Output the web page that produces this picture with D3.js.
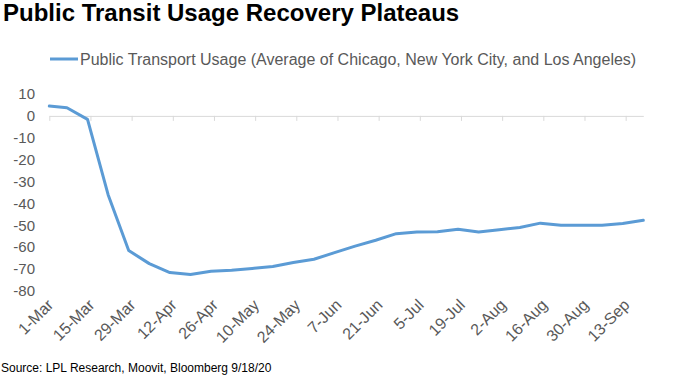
<!DOCTYPE html>
<html>
<head>
<meta charset="utf-8">
<script src="https://cdn.jsdelivr.net/npm/d3@7"></script>
<style>
	body { margin: 0; background: #fff; }
	text { font-family: "Liberation Sans", Arial, sans-serif; }
</style>
</head>
<body>
<svg width="694" height="384"></svg>
<script>
//* data
const dates = ["2020-03-01", "2020-03-07", "2020-03-14", "2020-03-21", "2020-03-28",
	"2020-04-04", "2020-04-11", "2020-04-18", "2020-04-25", "2020-05-02", "2020-05-09",
	"2020-05-16", "2020-05-23", "2020-05-30", "2020-06-06", "2020-06-13", "2020-06-20",
	"2020-06-27", "2020-07-04", "2020-07-11", "2020-07-18", "2020-07-25", "2020-08-01",
	"2020-08-08", "2020-08-15", "2020-08-22", "2020-08-29", "2020-09-05", "2020-09-12",
	"2020-09-19"];
const usage = [4.5, 3.7, -1.6, -36, -61.5, -67.5, -71.6, -72.5, -71, -70.5, -69.7,
	-68.8, -67, -65.5, -62.5, -59.5, -56.8, -53.8, -53, -52.9, -51.8, -53, -52,
	-51, -49, -50, -50, -50, -49.2, -47.7];
const tickLabels = ["1-Mar", "15-Mar", "29-Mar", "12-Apr", "26-Apr", "10-May", "24-May",
	"7-Jun", "21-Jun", "5-Jul", "19-Jul", "2-Aug", "16-Aug", "30-Aug", "13-Sep"];
const yTicks = [10, 0, -10, -20, -30, -40, -50, -60, -70, -80];
const seriesName = "Public Transport Usage (Average of Chicago, New York City, and Los Angeles)";

const parseDay = d3.timeParse("%Y-%m-%d");
const parseLabel = d3.timeParse("%d-%b-%Y");
const points = dates.map((d, i) => ({ date: parseDay(d), value: usage[i] }));
const tickDates = tickLabels.map((t) => parseLabel(t + "-2020"));

const svg = d3.select("svg");
const blue = "#5b9bd5";
const grey = "#595959";

//* scales
const x = d3.scaleTime()
	.domain(d3.extent(points, (d) => d.date))
	.range([49.3, 643.3]);
const y = d3.scaleLinear().domain([-80, 10]).range([291, 94]);

//* title
svg.append("text")
	.attr("x", 3)
	.attr("y", 21)
	.style("font-size", "24px")
	.style("font-weight", "bold")
	.style("fill", "#000")
	.text("Public Transit Usage Recovery Plateaus");

//* legend
svg.append("line")
	.attr("x1", 50).attr("x2", 78)
	.attr("y1", 59).attr("y2", 59)
	.style("stroke", blue)
	.style("stroke-width", 3);
svg.append("text")
	.attr("x", 80)
	.attr("y", 65)
	.style("font-size", "16px")
	.style("fill", grey)
	.text(seriesName);

//* y labels
svg.append("g")
	.selectAll("text")
	.data(yTicks)
	.enter()
	.append("text")
	.attr("x", 35)
	.attr("y", (d) => y(d))
	.attr("dy", "0.35em")
	.attr("text-anchor", "end")
	.style("font-size", "15px")
	.style("fill", grey)
	.text((d) => d);

//* x axis at zero
const xAxis = svg.append("g")
	.attr("transform", `translate(0, ${y(0)})`)
	.call(d3.axisBottom(x).tickValues(tickDates).tickSize(5).tickSizeOuter(0).tickFormat(""));
xAxis.select(".domain").style("stroke", "#d9d9d9");
xAxis.selectAll(".tick line").style("stroke", "#d9d9d9");

//* x labels (low position)
svg.append("g")
	.selectAll("text")
	.data(tickDates)
	.enter()
	.append("text")
	.attr("transform", (d) => `translate(${x(d) + 1}, 302) rotate(-45)`)
	.attr("text-anchor", "end")
	.attr("dy", "0.35em")
	.style("font-size", "16px")
	.style("fill", grey)
	.text((d, i) => tickLabels[i]);

//* line
const lineGenerator = d3.line()
	.x((d) => x(d.date))
	.y((d) => y(d.value));
svg.append("path")
	.datum(points)
	.attr("d", lineGenerator)
	.style("fill", "none")
	.style("stroke", blue)
	.style("stroke-width", 3)
	.style("stroke-linejoin", "round")
	.style("stroke-linecap", "round");

//* source
svg.append("text")
	.attr("x", 1)
	.attr("y", 372)
	.style("font-size", "12px")
	.style("fill", "#000")
	.text("Source: LPL Research, Moovit, Bloomberg 9/18/20");
</script>
</body>
</html>
